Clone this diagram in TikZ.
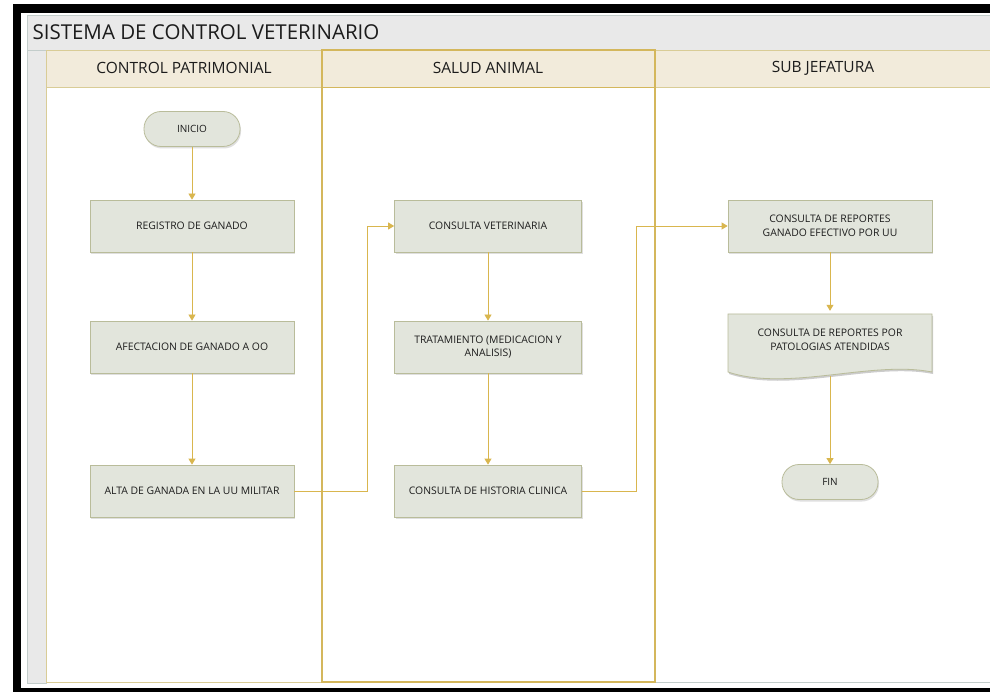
\documentclass[tikz,border=0pt]{standalone}
\usepackage{fontspec}
\setmainfont{Open Sans}
\usetikzlibrary{positioning, arrows.meta, shadows}

\definecolor{titlegray}{HTML}{E9E9E9}
\definecolor{poolline}{HTML}{C3CDCB}
\definecolor{headbeige}{HTML}{F2EBDB}
\definecolor{laneline}{HTML}{D9CC96}
\definecolor{lanegold}{HTML}{D4B75C}
\definecolor{boxfill}{HTML}{E2E5DC}
\definecolor{boxline}{HTML}{B9BC9A}
\definecolor{flowgold}{HTML}{D9B64E}
\definecolor{textdark}{HTML}{1C1C1C}

\tikzset{
  proc/.style={rectangle, draw=boxline, fill=boxfill, line width=0.8pt,
    minimum width=204pt, minimum height=52pt, align=center, text=textdark,
    font=\fontsize{10.4}{13.5}\selectfont,
    drop shadow={shadow xshift=1pt, shadow yshift=-2pt, opacity=0.25}},
  term/.style={proc, rounded corners=17pt, minimum width=96pt,
    minimum height=35pt, font=\fontsize{10}{12}\selectfont},
  doc/.style={rectangle, draw=none, minimum width=204pt, minimum height=58pt,
    align=center, text=textdark, font=\fontsize{10.4}{13.5}\selectfont},
  flow/.style={draw=flowgold, line width=0.8pt,
    -{Triangle[width=7pt,length=6pt]}},
  lanetitle/.style={text=textdark, font=\fontsize{15.5}{17}\selectfont}
}

\begin{document}
\begin{tikzpicture}[x=1pt,y=-1pt]
\useasboundingbox (0,0) rectangle (990,692);
\fill[white] (0,0) rectangle (990,692);
% marco
\fill[black] (13,4) rectangle (995,692);
\fill[white] (21,13) rectangle (995,688);
\draw[fill=titlegray,draw=poolline] (27,15) rectangle (995,50);
\node[anchor=west,text=textdark,font=\fontsize{20.5}{22}\selectfont] (titulo) at (29,32) {SISTEMA DE CONTROL VETERINARIO};
\draw[fill=titlegray,draw=poolline] (27,50) rectangle (46,683);

% carriles
\draw[draw=laneline] (46,87) rectangle (322,682);
\draw[draw=poolline] (655,87) rectangle (995,682);
\draw[fill=headbeige,draw=laneline] (46,50) rectangle (322,87);
\draw[fill=headbeige,draw=laneline] (655,50) rectangle (995,87);
\draw[fill=headbeige,draw=lanegold] (322,50) rectangle (655,87);
\draw[lanegold,line width=1.3pt] (322,50) rectangle (655,682);
\node[lanetitle] (lane1) at (184,68) {CONTROL PATRIMONIAL};
\node[lanetitle] (lane2) at (488,68) {SALUD ANIMAL};
\node[lanetitle] (lane3) at (823,68) {SUB JEFATURA};

% documento
\fill[black,opacity=0.2] (729,316) -- (933,316) -- (933,374) .. controls (873,362) and (789,394) .. (729,374) -- cycle;
\draw[fill=boxfill,draw=boxline,line width=0.8pt] (728,314) -- (932,314) -- (932,372) .. controls (872,360) and (788,392) .. (728,372) -- cycle;

% pasos
\node[term] (inicio) at (192,129) {INICIO};
\node[proc] (registro) at (192,226) {REGISTRO DE GANADO};
\node[proc] (afecta) at (192,347) {AFECTACION DE GANADO A OO};
\node[proc] (alta) at (192,491) {ALTA DE GANADA EN LA UU MILITAR};
\node[proc,minimum width=187pt] (consulta) at (488,226) {CONSULTA VETERINARIA};
\node[proc,minimum width=187pt] (trata) at (488,347) {TRATAMIENTO (MEDICACION Y\\ANALISIS)};
\node[proc,minimum width=187pt] (historia) at (488,491) {CONSULTA DE HISTORIA CLINICA};
\node[proc] (reporte) at (830,226) {CONSULTA DE REPORTES\\GANADO EFECTIVO POR UU};
\node[doc] (patolog) at (830,340) {CONSULTA DE REPORTES POR\\PATOLOGIAS ATENDIDAS};
\node[term] (fin) at (830,482) {FIN};

\coordinate (codo1) at (367,491);
\coordinate (codo2) at (636,491);
\coordinate (docfin) at (830,376);

\draw[flow] (inicio) -- (registro);
\draw[flow] (registro) -- (afecta);
\draw[flow] (afecta) -- (alta);
\draw[flow] (alta.east) -- (codo1) |- (consulta.west);
\draw[flow] (consulta) -- (trata);
\draw[flow] (trata) -- (historia);
\draw[flow] (historia.east) -- (codo2) |- (reporte.west);
\draw[flow] (reporte) -- (patolog.north);
\draw[flow] (docfin) -- (fin);

\end{tikzpicture}
\end{document}
